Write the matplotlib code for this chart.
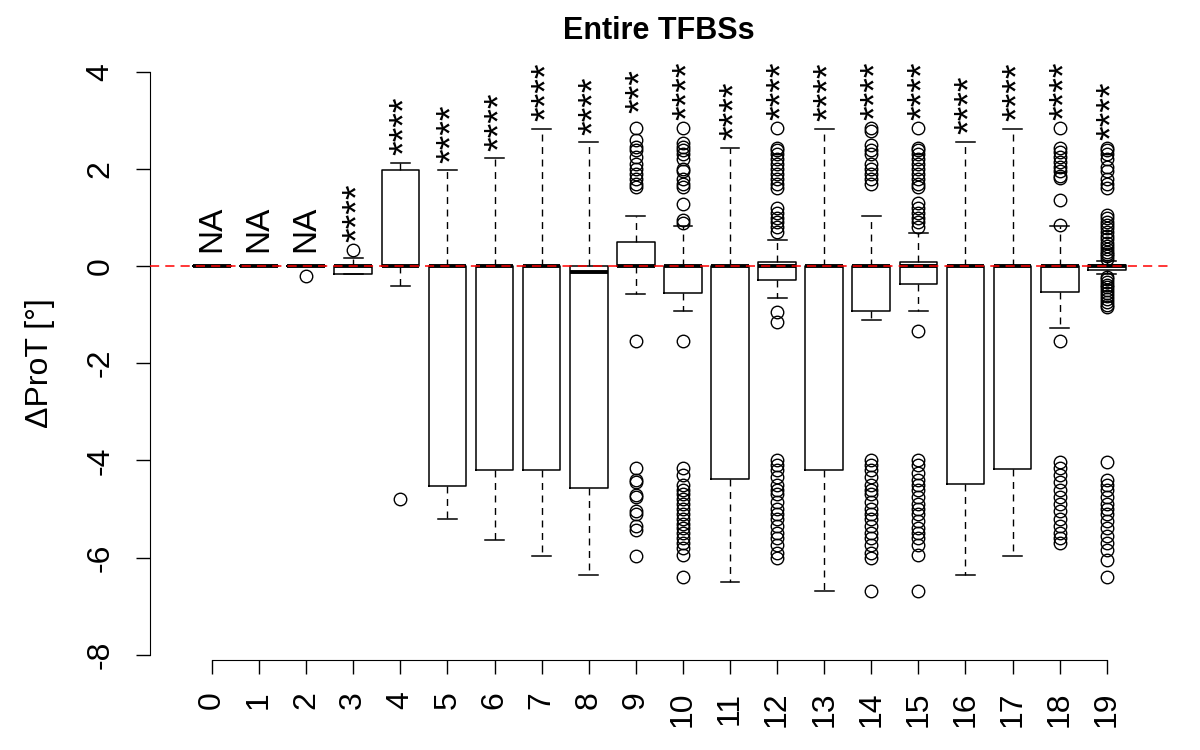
import matplotlib
matplotlib.use("Agg")
import matplotlib.pyplot as plt

plt.rcParams['font.family'] = ['Liberation Sans', 'DejaVu Sans']

labels = ['0', '1', '2', '3', '4', '5', '6', '7', '8', '9',
          '10', '11', '12', '13', '14', '15', '16', '17', '18', '19']

med = [0, 0, 0, 0, 0, 0, 0, 0, -0.13, 0, 0, 0, 0, 0, 0, 0, 0, 0, 0, 0]
q1 = [0, 0, 0, -0.17, 0, -4.52, -4.2, -4.2, -4.56, 0,
      -0.55, -4.38, -0.29, -4.2, -0.92, -0.37, -4.49, -4.18, -0.54, -0.08]
q3 = [0, 0, 0, 0, 1.97, 0, 0, 0, 0, 0.5,
      0, 0, 0.09, 0, 0, 0.09, 0, 0, 0, 0.02]
whislo = [0, 0, 0, -0.17, -0.41, -5.2, -5.64, -5.97, -6.35, -0.58,
          -0.93, -6.5, -0.66, -6.68, -1.1, -0.92, -6.35, -5.97, -1.28, -0.17]
whishi = [0, 0, 0, 0.17, 2.12, 1.97, 2.22, 2.83, 2.55, 1.03,
          0.83, 2.44, 0.53, 2.83, 1.03, 0.69, 2.56, 2.83, 0.83, 0.1]

fliers = [
    [],
    [],
    [-0.2],
    [0.34],
    [-4.8],
    [],
    [],
    [],
    [],
    [2.84, 2.6, 2.45, 2.4, 2.25, 2.1, 2.0, 1.9, 1.8, 1.7, 1.63,
     -1.55, -4.16, -4.4, -4.45, -4.71, -4.75, -5.05, -5.1, -5.36, -5.43, -5.97],
    [2.84, 2.53, 2.45, 2.4, 2.3, 2.2, 2.0, 1.95, 1.8, 1.7, 1.63, 1.27, 0.95, 0.88,
     -1.55, -4.16, -4.3, -4.5, -4.6, -4.7, -4.8, -4.9, -5.0, -5.1, -5.2, -5.3,
     -5.4, -5.5, -5.6, -5.7, -5.8, -5.95, -6.4],
    [],
    [2.84, 2.43, 2.4, 2.3, 2.2, 2.1, 2.0, 1.9, 1.8, 1.7, 1.6, 1.19, 1.1, 1.0, 0.9,
     0.8, 0.7, -0.94, -1.15, -4.0, -4.1, -4.2, -4.35, -4.5, -4.6, -4.7, -4.85,
     -5.0, -5.1, -5.2, -5.35, -5.5, -5.6, -5.75, -5.9, -6.0],
    [],
    [2.84, 2.78, 2.5, 2.4, 2.3, 2.1, 2.0, 1.9, 1.8, 1.7, -4.0, -4.1, -4.2, -4.35,
     -4.5, -4.6, -4.7, -4.85, -5.0, -5.1, -5.2, -5.35, -5.5, -5.6, -5.75, -5.9,
     -6.0, -6.68],
    [2.84, 2.44, 2.4, 2.3, 2.2, 2.1, 2.0, 1.9, 1.8, 1.7, 1.63, 1.3, 1.2, 1.1, 1.0,
     0.9, 0.81, -1.33, -4.0, -4.1, -4.25, -4.4, -4.5, -4.6, -4.75, -4.9, -5.0,
     -5.1, -5.25, -5.4, -5.5, -5.6, -5.75, -5.95, -6.68],
    [],
    [],
    [2.84, 2.43, 2.35, 2.25, 2.15, 2.05, 1.95, 1.85, 1.81, 1.37, 0.84,
     -1.55, -4.03, -4.15, -4.3, -4.45, -4.6, -4.75, -4.9, -5.05, -5.2, -5.35,
     -5.5, -5.6, -5.7],
    [2.43, 2.4, 2.3, 2.2, 2.05, 1.95, 1.8, 1.7, 1.6, 1.05, 0.98, 0.9, 0.85, 0.78,
     0.7, 0.62, 0.55, 0.48, 0.42, 0.36, 0.3, 0.25, 0.2, 0.15,
     -0.22, -0.27, -0.32, -0.38, -0.44, -0.5, -0.56, -0.62, -0.68, -0.74, -0.8,
     -0.84, -4.03, -4.4, -4.5, -4.6, -4.75, -4.9, -5.0, -5.1, -5.25, -5.4, -5.55,
     -5.7, -5.85, -6.05, -6.4],
]

signif = ['NA', 'NA', 'NA', '****', '****', '****', '****', '****', '****', '***',
          '****', '****', '****', '****', '****', '****', '****', '****', '****', '****']

stats = []
for i in range(len(labels)):
    stats.append(dict(med=med[i], q1=q1[i], q3=q3[i], whislo=whislo[i],
                      whishi=whishi[i], fliers=fliers[i], label=labels[i]))

fig = plt.figure(figsize=(12, 7.5), dpi=100)
ax = fig.add_axes([150 / 1200, 1 - 678 / 750, 1018 / 1200, 630 / 750])

pos = list(range(len(labels)))
ax.bxp(stats, positions=pos, widths=0.8, capwidths=0.4,
       boxprops=dict(color='black', linewidth=1.1),
       whiskerprops=dict(color='black', linewidth=1.0, linestyle=(0, (5, 4))),
       capprops=dict(color='black', linewidth=1.1),
       medianprops=dict(color='black', linewidth=2.8, solid_capstyle='butt'),
       flierprops=dict(marker='o', markerfacecolor='none', markeredgecolor='black',
                       markersize=9, markeredgewidth=1.0, linestyle='none'))

ax.axhline(0, color='red', linewidth=1.1, linestyle=(0, (6, 4)), zorder=10)

# significance labels, centred 0.76 above the highest mark of each group
for i in range(len(labels)):
    top = max([whishi[i]] + fliers[i])
    if signif[i] == 'NA':
        ax.text(pos[i], top + 0.76, signif[i], rotation=90, ha='center',
                va='center', fontsize=24)
    else:
        ax.text(pos[i] + 0.12, top + 0.76, signif[i], rotation=90, ha='center',
                va='center', fontsize=27)

ax.set_xlim(-1.316, 20.3)
ax.set_ylim(-8.48, 4.49)

for s in ['top', 'right']:
    ax.spines[s].set_visible(False)
ax.spines['bottom'].set_position(('data', -8.1))
ax.spines['bottom'].set_bounds(0, 19)
ax.spines['left'].set_bounds(-8, 4)

ax.set_xticks(pos)
ax.set_xticklabels(labels, rotation=90, fontsize=23)
ax.set_yticks([-8, -6, -4, -2, 0, 2, 4])
ax.set_yticklabels(['-8', '-6', '-4', '-2', '0', '2', '4'], fontsize=23)
for t in ax.get_yticklabels():
    t.set_rotation(90)
    t.set_va('center')
ax.tick_params(axis='x', length=10, width=1, pad=13)
ax.tick_params(axis='y', length=10, width=1, pad=15)

fig.text(659 / 1200, 1 - 31 / 750, 'Entire TFBSs', ha='center', va='center',
         fontsize=22, fontweight='bold')
fig.text(40 / 1200, 1 - 363 / 750, 'ΔProT [°]', rotation=90, ha='center',
         va='center', fontsize=23)

fig.savefig('out.png', dpi=100)
